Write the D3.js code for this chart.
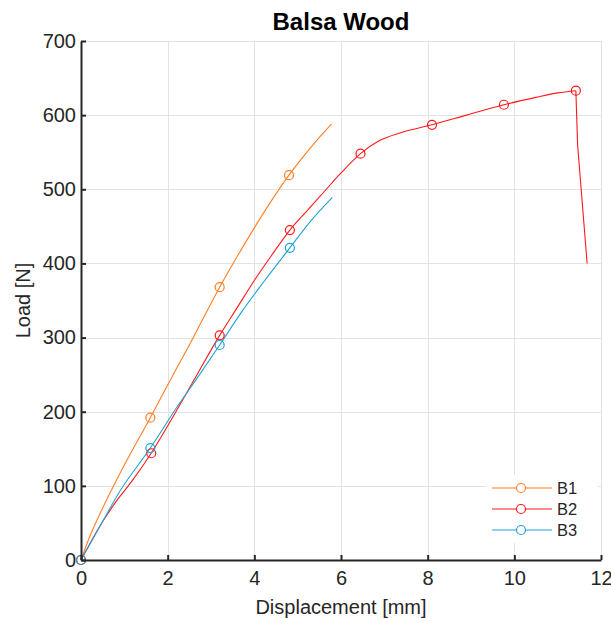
<!DOCTYPE html>
<html>
<head>
<meta charset="utf-8">
<script src="https://cdn.jsdelivr.net/npm/d3@7/dist/d3.min.js"></script>
<style>
  html, body { margin: 0; padding: 0; background: #fff; }
  svg { display: block; font-family: "Liberation Sans", Arial, Helvetica, sans-serif; }
</style>
</head>
<body>
<svg id="chart" width="611" height="619"></svg>
<script>
// Load–displacement curves for three balsa specimens
const seriesNames = ["B1", "B2", "B3"];
const seriesColors = ["#ff7f24", "#ff1a1a", "#1ea4d6"];

const b1Curve = [[0,0],[0.15,24],[0.5,70],[1.0,128],[1.6,192],[2.0,236],[2.5,290],[3.2,368],[3.6,409],[4.0,448],[4.4,485],[4.8,519],[5.2,549],[5.5,570],[5.78,588]];
const b2Curve = [[0,0],[0.48,50],[0.8,78],[1.17,106],[1.62,144],[2.17,198],[2.6,242],[3.2,303],[3.6,340],[4.0,377],[4.4,411],[4.82,445],[5.2,470],[5.6,496],[6.0,522],[6.45,548],[6.9,566],[7.36,576],[8.1,587],[8.9,600],[9.76,614],[10.5,624],[11.0,630],[11.42,633],[11.46,560],[11.68,400]];
const b3Curve = [[0,0],[0.48,50],[0.9,93],[1.6,151],[2.2,205],[2.7,247],[3.2,290],[3.7,334],[4.2,374],[4.82,421],[5.3,457],[5.8,489]];

// marker points sampled along each curve
const b1Markers = [[0,0],[1.6,192],[3.2,368],[4.8,519]];
const b2Markers = [[0,0],[1.62,144],[3.2,303],[4.82,445],[6.45,548],[8.1,587],[9.76,614],[11.42,633]];
const b3Markers = [[0,0],[1.6,151],[3.2,290],[4.82,421]];

const xTicks = [0, 2, 4, 6, 8, 10, 12];
const yTicks = [0, 100, 200, 300, 400, 500, 600, 700];

const titleText = "Balsa Wood";
const xLabel = "Displacement [mm]";
const yLabel = "Load [N]";

const series = [
  { name: seriesNames[0], color: seriesColors[0], curve: b1Curve, markers: b1Markers },
  { name: seriesNames[1], color: seriesColors[1], curve: b2Curve, markers: b2Markers },
  { name: seriesNames[2], color: seriesColors[2], curve: b3Curve, markers: b3Markers }
];

const svg = d3.select("#chart");
const plotL = 81, plotR = 601, plotT = 41, plotB = 560;

const x = d3.scaleLinear().domain([0, 12]).range([plotL, plotR]);
const y = d3.scaleLinear().domain([0, 700]).range([plotB, plotT]);

const axisColor = "#262626";

// grid
const grid = svg.append("g").attr("stroke", "#e3e3e3").attr("stroke-width", 1);
grid.selectAll("line.gx").data(xTicks.slice(1)).enter().append("line")
  .attr("x1", d => Math.round(x(d)) + 0.5).attr("x2", d => Math.round(x(d)) + 0.5)
  .attr("y1", plotT).attr("y2", plotB);
grid.selectAll("line.gy").data(yTicks.slice(1)).enter().append("line")
  .attr("y1", d => Math.round(y(d)) + 0.5).attr("y2", d => Math.round(y(d)) + 0.5)
  .attr("x1", plotL).attr("x2", plotR);

// curves: smooth while loading, straight segments after the peak load
const smoothLine = d3.line().x(d => x(d[0])).y(d => y(d[1])).curve(d3.curveMonotoneX);
const straightLine = d3.line().x(d => x(d[0])).y(d => y(d[1]));
series.forEach(s => {
  const peak = d3.maxIndex(s.curve, d => d[1]);
  const rising = s.curve.slice(0, peak + 1);
  const falling = s.curve.slice(peak);
  svg.append("path")
    .attr("d", smoothLine(rising))
    .attr("fill", "none")
    .attr("stroke", s.color)
    .attr("stroke-width", 1.1);
  if (falling.length > 1) {
    svg.append("path")
      .attr("d", straightLine(falling))
      .attr("fill", "none")
      .attr("stroke", s.color)
      .attr("stroke-width", 1.1);
  }
});
series.forEach(s => {
  svg.append("g").selectAll("circle").data(s.markers).enter().append("circle")
    .attr("cx", d => x(d[0])).attr("cy", d => y(d[1]))
    .attr("r", 4.5)
    .attr("fill", "none")
    .attr("stroke", s.color)
    .attr("stroke-width", 1.2);
});

// axes
const xAxis = d3.axisBottom(x).tickValues(xTicks).tickSizeInner(-5).tickSizeOuter(0).tickPadding(11);
const yAxis = d3.axisLeft(y).tickValues(yTicks).tickSizeInner(-5).tickSizeOuter(0).tickPadding(5);

const gx = svg.append("g").attr("transform", `translate(0,${plotB})`).call(xAxis);
const gy = svg.append("g").attr("transform", `translate(${plotL},0)`).call(yAxis);
[gx, gy].forEach(g => {
  g.select(".domain").attr("stroke", axisColor).attr("stroke-width", 2);
  g.selectAll(".tick line").attr("stroke", axisColor).attr("stroke-width", 2);
  g.selectAll(".tick text").attr("fill", axisColor).style("font-size", "20px")
    .style("font-family", "'Liberation Sans', Arial, sans-serif");
});
gx.selectAll(".tick text").attr("dy", "0.71em");

// titles
svg.append("text").attr("x", (plotL + plotR) / 2).attr("y", 30)
  .attr("text-anchor", "middle").attr("font-weight", "bold").attr("font-size", "24px")
  .attr("fill", "#000").text(titleText);
svg.append("text").attr("x", (plotL + plotR) / 2).attr("y", 614)
  .attr("text-anchor", "middle").attr("font-size", "20px").attr("fill", axisColor).text(xLabel);
svg.append("text").attr("transform", `translate(30,${(plotT + plotB) / 2}) rotate(-90)`)
  .attr("text-anchor", "middle").attr("font-size", "20px").attr("fill", axisColor).text(yLabel);

// legend
const lg = svg.append("g");
lg.append("rect").attr("x", 486).attr("y", 475).attr("width", 112).attr("height", 68).attr("fill", "#fff");
series.forEach((s, i) => {
  const yy = 488 + i * 21;
  lg.append("line").attr("x1", 492).attr("x2", 552).attr("y1", yy).attr("y2", yy)
    .attr("stroke", s.color).attr("stroke-width", 1.1);
  lg.append("circle").attr("cx", 521).attr("cy", yy).attr("r", 4.5)
    .attr("fill", "#fff").attr("stroke", s.color).attr("stroke-width", 1.2);
  lg.append("text").attr("x", 557).attr("y", yy).attr("dy", "0.35em")
    .attr("font-size", "16.5px").attr("fill", axisColor).text(s.name);
});
</script>
</body>
</html>
